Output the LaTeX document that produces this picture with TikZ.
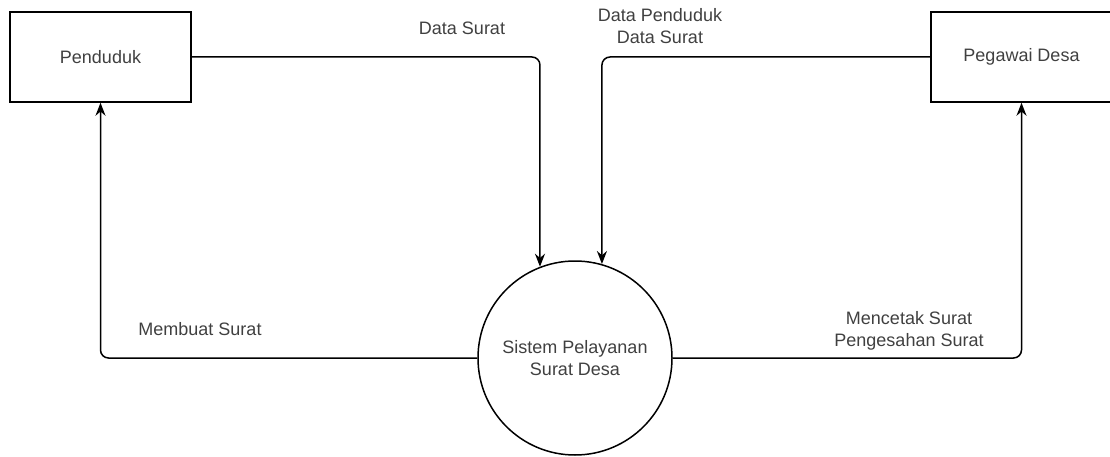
\documentclass[tikz,border=0pt]{standalone}
\usepackage{fontspec}
\setmainfont{Liberation Sans}
\usetikzlibrary{arrows.meta}
\begin{document}
\begin{tikzpicture}[x=1pt,y=-1pt,line width=1.5pt,
  font=\fontsize{18}{22}\selectfont,
  entity/.style={draw,minimum width=181pt,minimum height=90pt,text=black!75},
  process/.style={draw,circle,minimum size=194pt,inner sep=0pt,align=center,text=black!75},
  flow/.style={rounded corners=8pt,-{Stealth[length=13pt,width=10pt]}},
  lbl/.style={align=center,text=black!75}]
     		\useasboundingbox (0,0) rectangle (1110,457);
     		\node[entity] (pend) at (100.5,57) {Penduduk};
     		\node[entity] (peg) at (1021.5,57) {Pegawai Desa};
     		\node[process] (sys) at (575,358) {Sistem Pelayanan\\Surat Desa};
     		\draw[flow] (pend.east) -| (sys.111);
     		\draw[flow] (peg.west) -| (sys.74.5);
     		\draw[flow] (sys.west) -| (pend.south);
     		\draw[flow] (sys.east) -| (peg.south);
     		\node[lbl] (l1) at (462,28) {Data Surat};
     		\node[lbl] (l2) at (660,26) {Data Penduduk\\Data Surat};
     		\node[lbl] (l3) at (200,329) {Membuat Surat};
     		\node[lbl] (l4) at (909,331) {Mencetak Surat\\Pengesahan Surat};
		\end{tikzpicture}
\end{document}
